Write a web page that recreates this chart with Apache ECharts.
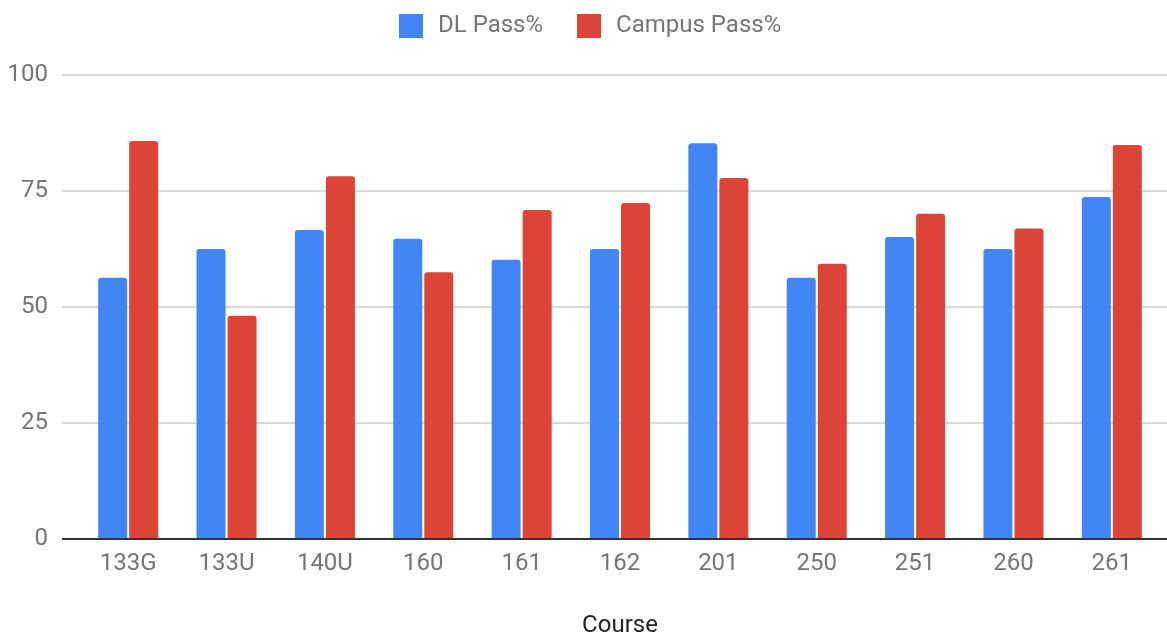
<!DOCTYPE html>
<html>
<head>
<meta charset="utf-8">
<script src="https://cdn.jsdelivr.net/npm/echarts@6/dist/echarts.min.js"></script>
<style>
  html, body { margin: 0; padding: 0; background: #fff; }
  #main { width: 1167px; height: 637px; }
</style>
</head>
<body>
<div id="main"></div>
<script>
// 课程通过率数据
const courses = ['133G', '133U', '140U', '160', '161', '162', '201', '250', '251', '260', '261']
const dlPass = [56.3, 62.5, 66.6, 64.7, 60.2, 62.5, 85.3, 56.3, 65.1, 62.5, 73.7]
const campusPass = [85.8, 48.1, 78.2, 57.5, 70.9, 72.4, 77.8, 59.3, 70.1, 66.9, 84.9]
const yTicks = [0, 25, 50, 75, 100]

const chart = echarts.init(document.getElementById('main'))
const labelColor = '#757575'
const font = 'Roboto, sans-serif'
const blue = '#4285F4'
const red = '#DB4437'

const option = {
  animation: false,
  textStyle: { fontFamily: font },
  legend: {
    top: 9,
    left: 394,
    itemWidth: 24,
    itemHeight: 24,
    itemGap: 34,
    icon: 'rect',
    data: ['DL Pass%', 'Campus Pass%'],
    textStyle: {
      fontSize: 24,
      color: labelColor,
      fontFamily: font,
      padding: [0, 0, 0, 10],
    },
  },
  grid: [
    // 网格线 + y轴刻度
    { left: 62, right: 0, top: 75, bottom: 98, outerBoundsMode: 'none', containLabel: false },
    // 柱状图
    { left: 79, right: 6, top: 75, bottom: 98, outerBoundsMode: 'none', containLabel: false },
  ],
  xAxis: [
    {
      gridIndex: 0,
      type: 'value',
      show: false,
      min: 0,
      max: 1,
    },
    {
      gridIndex: 1,
      type: 'category',
      data: courses,
      axisTick: { show: false },
      axisLine: { show: false },
      axisLabel: {
        fontSize: 24,
        color: labelColor,
        margin: 13,
        fontFamily: font,
      },
      name: 'Course',
      nameLocation: 'middle',
      nameGap: 75,
      nameTextStyle: { fontSize: 24, color: '#222', fontFamily: font },
    },
  ],
  yAxis: [
    {
      gridIndex: 0,
      type: 'value',
      min: yTicks[0],
      max: yTicks[yTicks.length - 1],
      interval: 25,
      axisLine: { show: false },
      axisTick: { show: false },
      axisLabel: {
        fontSize: 24,
        color: labelColor,
        margin: 14,
        fontFamily: font,
      },
      splitLine: {
        lineStyle: { color: '#cccccc', width: 1.5 },
      },
    },
    {
      gridIndex: 1,
      type: 'value',
      min: yTicks[0],
      max: yTicks[yTicks.length - 1],
      interval: 25,
      show: false,
      splitLine: { show: false },
    },
  ],
  series: [
    {
      // 底部坐标轴线
      type: 'line',
      xAxisIndex: 0,
      yAxisIndex: 0,
      data: [],
      markLine: {
        silent: true,
        symbol: 'none',
        label: { show: false },
        lineStyle: { color: '#333', width: 2, type: 'solid' },
        data: [{ yAxis: 0 }],
      },
      z: 5,
    },
    {
      name: 'DL Pass%',
      type: 'bar',
      xAxisIndex: 1,
      yAxisIndex: 1,
      data: dlPass,
      barWidth: 29,
      barGap: '7%',
      itemStyle: { color: blue, borderRadius: [3, 3, 0, 0] },
    },
    {
      name: 'Campus Pass%',
      type: 'bar',
      xAxisIndex: 1,
      yAxisIndex: 1,
      data: campusPass,
      barWidth: 29,
      barGap: '7%',
      itemStyle: { color: red, borderRadius: [3, 3, 0, 0] },
    },
  ],
}

chart.setOption(option)
</script>
</body>
</html>
